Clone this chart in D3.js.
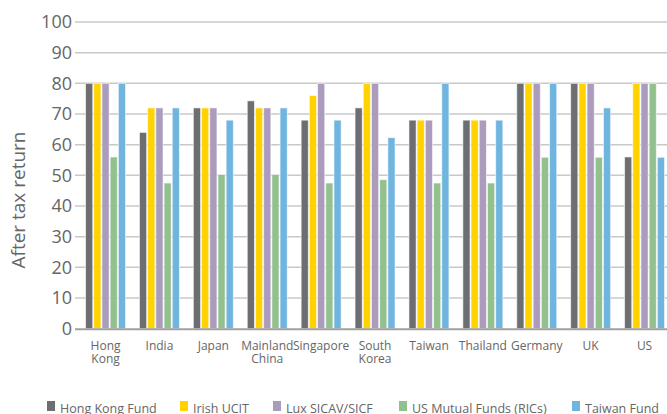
<!DOCTYPE html>
<html>
<head>
<meta charset="utf-8">
<script src="https://cdn.jsdelivr.net/npm/d3@7"></script>
<style>
  body { margin: 0; background: #fff; }
  svg { display: block; font-family: "Open Sans", sans-serif; }
</style>
</head>
<body>
<div id="plot"></div>
<script>
const width = 667;
const height = 414;

// ----- DATA ------------------------//
const categories = [["Hong", "Kong"], ["India"], ["Japan"], ["Mainland", "China"], ["Singapore"],
    ["South", "Korea"], ["Taiwan"], ["Thailand"], ["Germany"], ["UK"], ["US"]];
const seriesNames = ["Hong Kong Fund", "Irish UCIT", "Lux SICAV/SICF", "US Mutual Funds (RICs)", "Taiwan Fund"];
const hongKongFund = [80, 64, 72, 74.3, 68, 72, 68, 68, 80, 80, 56];
const irishUcit    = [80, 72, 72, 72, 76, 80, 68, 68, 80, 80, 80];
const luxSicav     = [80, 72, 72, 72, 80, 80, 68, 68, 80, 80, 80];
const usMutual     = [56, 47.5, 50.3, 50.3, 47.5, 48.6, 47.5, 47.5, 55.9, 55.9, 80];
const taiwanFund   = [80, 72, 68, 72, 68, 62.3, 80, 68, 80, 72, 55.9];
const yTicks = [0, 10, 20, 30, 40, 50, 60, 70, 80, 90, 100];

const allSeries = [hongKongFund, irishUcit, luxSicav, usMutual, taiwanFund];
const colors = ["#6d6e71", "#ffd200", "#ab9bbd", "#93c18e", "#6fb5e0"];

const svg = d3.select("#plot").append("svg")
    .attr("width", width)
    .attr("height", height);

// scales
const xScl = d3.scaleBand()
    .domain(d3.range(categories.length))
    .range([78.6, 78.6 + 53.9 * categories.length])
    .paddingInner(0)
    .paddingOuter(0);

const inner = d3.scaleBand()
    .domain(d3.range(seriesNames.length))
    .range([(53.9 - 41) / 2, (53.9 + 41) / 2]);

const yScl = d3.scaleLinear().domain([0, 100]).range([328.7, 22]);

// gridlines
svg.append("g")
    .selectAll("line")
    .data(yTicks.slice(1))
    .enter()
    .append("line")
    .attr("x1", 75)
    .attr("x2", width)
    .attr("y1", d => yScl(d))
    .attr("y2", d => yScl(d))
    .attr("stroke", "#c8c8c8")
    .attr("stroke-width", 1.5);

// y axis labels
const yAxis = d3.axisLeft(yScl).tickValues(yTicks).tickSize(0).tickPadding(3);
const yG = svg.append("g")
    .attr("transform", "translate(75,0)")
    .call(yAxis);
yG.select(".domain").remove();
yG.selectAll("text")
    .attr("fill", "#666")
    .style("font-size", "18px")
    .style("font-family", "Open Sans, sans-serif");

// bars
const groups = svg.selectAll(".grp")
    .data(categories)
    .enter()
    .append("g")
    .attr("class", "grp")
    .attr("transform", (d, i) => "translate(" + xScl(i) + ",0)");

groups.selectAll("rect")
    .data((d, i) => allSeries.map((s, j) => ({ j: j, v: s[i] })))
    .enter()
    .append("rect")
    .attr("x", d => inner(d.j) + 0.5)
    .attr("width", inner.bandwidth() - 1)
    .attr("y", d => yScl(d.v))
    .attr("height", d => yScl(0) - yScl(d.v))
    .attr("fill", d => colors[d.j])
    .attr("stroke", "#fff")
    .attr("stroke-opacity", 0.6)
    .attr("stroke-width", 1);

// baseline
svg.append("line")
    .attr("x1", 75)
    .attr("x2", width)
    .attr("y1", yScl(0) + 0.5)
    .attr("y2", yScl(0) + 0.5)
    .attr("stroke", "#a0a0a0")
    .attr("stroke-width", 2);

// category labels
const lab = svg.append("g").selectAll("text")
    .data(categories)
    .enter()
    .append("text")
    .attr("x", (d, i) => xScl(i) + xScl.bandwidth() / 2)
    .attr("y", 350)
    .attr("text-anchor", "middle")
    .attr("fill", "#666")
    .style("font-size", "12px");
lab.selectAll("tspan")
    .data(d => d)
    .enter()
    .append("tspan")
    .attr("x", function () { return d3.select(this.parentNode).attr("x"); })
    .attr("dy", (d, i) => i === 0 ? 0 : 12.5)
    .text(d => d);

// y title
svg.append("text")
    .attr("transform", "translate(25,200) rotate(-90)")
    .attr("text-anchor", "middle")
    .attr("fill", "#666")
    .style("font-size", "19px")
    .text("After tax return");

// legend
const legendX = [47, 180, 273, 399, 572];
const leg = svg.append("g").selectAll("g")
    .data(seriesNames)
    .enter()
    .append("g")
    .attr("transform", (d, i) => "translate(" + legendX[i] + ",401)");
leg.append("rect")
    .attr("width", 8)
    .attr("height", 10)
    .attr("fill", (d, i) => colors[i]);
leg.append("text")
    .attr("x", 13)
    .attr("y", 12)
    .attr("fill", "#666")
    .style("font-size", "12.5px")
    .text(d => d);
</script>
</body>
</html>
